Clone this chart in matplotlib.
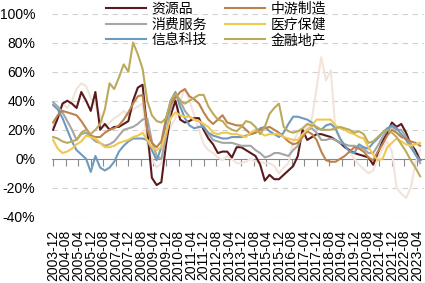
import matplotlib
matplotlib.use("Agg")
import matplotlib.pyplot as plt
import pandas as pd

plt.rcParams['font.family'] = ['Liberation Sans', 'Noto Sans CJK SC', 'DejaVu Sans']

tick_labels = ["2003-12", "2004-08", "2005-04", "2005-12", "2006-08", "2007-04", "2007-12",
               "2008-08", "2009-04", "2009-12", "2010-08", "2011-04", "2011-12", "2012-08",
               "2013-04", "2013-12", "2014-08", "2015-04", "2015-12", "2016-08", "2017-04",
               "2017-12", "2018-08", "2019-04", "2019-12", "2020-08", "2021-04", "2021-12",
               "2022-08", "2023-04"]

dates = pd.date_range("2003-12-01", periods=79, freq="3MS")

resources = [20, 28, 38, 40, 38, 35, 46, 40, 33, 46, 20, 24, 20, 22, 22, 24, 26, 40, 49, 51,
             20, -13, -18, -16, 10, 30, 40, 27, 25, 26, 28, 28, 20, 14, 10, 4, 5, 5, 1, 8,
             8, 6, 4, 2, -4, -15, -11, -14, -14, -11, -8, -5, 2, 20, 13, 15, 17, 17, 16, 15,
             13, 11, 8, 6, 4, 3, 2, 1, -4, 4, 12, 18, 25, 22, 24, 18, 10, 6, -1]
midstream = [25, 30, 33, 32, 31, 30, 26, 21, 16, 15, 15, 18, 20, 21, 23, 27, 32, 38, 43, 44,
             20, 11, 8, 12, 28, 38, 42, 46, 48, 43, 41, 38, 32, 27, 24, 27, 30, 25, 24, 23,
             23, 20, 17, 18, 20, 21, 22, 20, 18, 15, 12, 10, 11, 15, 19, 17, 13, 5, -1, -2,
             -2, 0, 2, 5, 8, 7, 5, 1, -1, 5, 10, 16, 20, 18, 15, 14, 12, 11, 9]
consumer = [39, 36, 32, 26, 20, 13, 17, 18, 15, 12, 11, 9, 10, 12, 16, 20, 21, 22, 24, 27,
            28, 12, 2, 0, 15, 35, 45, 40, 33, 29, 27, 26, 22, 17, 13, 12, 11, 11, 11, 10,
            9, 9, 9, 6, 4, 1, 2, 4, 4, 3, 2, 6, 9, 16, 20, 21, 18, 13, 13, 14,
            13, 11, 10, 9, 9, 8, 7, 4, 4, 9, 15, 20, 22, 20, 20, 15, 10, 3, -3]
healthcare = [13, 7, 4, 5, 7, 10, 12, 16, 15, 14, 11, 8, 8, 9, 11, 12, 13, 15, 16, 18,
              13, 8, 6, 8, 18, 28, 32, 30, 29, 29, 27, 26, 24, 22, 18, 17, 18, 18, 17, 17,
              16, 15, 18, 20, 18, 16, 17, 17, 17, 15, 14, 13, 13, 17, 20, 23, 27, 27, 27, 27,
              23, 21, 20, 18, 17, 15, 14, 8, 3, -1, 0, 8, 11, 14, 12, 10, 9, 10, 11]
tech = [37, 34, 28, 20, 12, 6, 3, 0, -9, 2, -6, -8, -6, -2, 5, 9, 12, 14, 14, 14,
        13, 6, -1, 8, 25, 40, 46, 36, 28, 23, 21, 22, 22, 18, 16, 15, 14, 14, 15, 15,
        15, 16, 17, 18, 21, 22, 19, 17, 15, 18, 24, 29, 29, 28, 27, 25, 21, 20, 23, 24,
        21, 14, 9, 5, 4, 10, 8, 7, 11, 14, 18, 21, 23, 21, 17, 13, 8, 3, -1]
finance = [15, 14, 12, 11, 12, 13, 18, 20, 17, 20, 24, 34, 52, 48, 56, 65, 60, 80, 72, 62,
           40, 30, 26, 25, 28, 40, 45, 40, 38, 40, 42, 44, 44, 36, 31, 27, 26, 22, 20, 19,
           22, 26, 25, 22, 17, 22, 31, 35, 38, 22, 19, 18, 19, 21, 24, 23, 22, 20, 20, 20,
           21, 22, 21, 20, 18, 19, 17, 11, 12, 15, 18, 20, 18, 15, 10, 5, -1, -6, -12]
other = [22, 30, 38, 35, 40, 48, 52, 50, 42, 37, 30, 22, 25, 28, 30, 33, 30, 34, 36, 38,
         10, 0, -6, -3, 15, 22, 28, 40, 48, 40, 30, 20, 10, 6, 4, 1, -1, 2, 0, -3,
         -3, -2, 0, -2, -2, -3, -3, -5, -10, -6, -3, 12, 18, 20, 22, 28, 49, 70, 54, 61,
         20, 13, 10, 5, 0, -4, -7, -10, -8, 0, 7, 12, 5, -20, -24, -27, -20, -3, 6]

series = [
    ("_other", other, "#f2e3dc"),
    ("资源品", resources, "#5a1a1c"),
    ("消费服务", consumer, "#a6a6a6"),
    ("信息科技", tech, "#6e9bbd"),
    ("中游制造", midstream, "#bd824c"),
    ("医疗保健", healthcare, "#f0c850"),
    ("金融地产", finance, "#bcaa5c"),
]

fig = plt.figure(figsize=(4.25, 2.83), dpi=100)
ax = fig.add_axes([52 / 425, 1 - 217 / 283, 372 / 425, (217 - 13.5) / 283])

handles = {}
for name, vals, col in series:
    ln, = ax.plot(dates, vals, color=col, lw=1.5, label=name)
    handles[name] = ln

ax.set_ylim(-40, 100)
ax.set_xlim(pd.Timestamp("2003-11-10"), pd.Timestamp("2023-08-15"))
ax.set_yticks(range(-40, 101, 20))
ax.set_yticklabels([f"{v}%" for v in range(-40, 101, 20)], fontsize=10)
for v in range(-40, 101, 20):
    if v != 0:
        ax.axhline(v, color="#d0d0d0", lw=0.8, ls=(0, (5, 4)), zorder=0)

for s in ["top", "right", "left"]:
    ax.spines[s].set_visible(False)
ax.spines["bottom"].set_position(("data", 0))
ax.spines["bottom"].set_color("#888888")
ax.spines["bottom"].set_zorder(0.5)
ax.tick_params(axis="y", length=0, pad=12)
ticks = pd.to_datetime(tick_labels)
ax.set_xticks(ticks)
ax.set_xticklabels(tick_labels, rotation=90, fontsize=10, va="top")
ax.tick_params(axis="x", direction="out", length=5, color="#888888", pad=46)

order = ["资源品", "消费服务", "信息科技", "中游制造", "医疗保健", "金融地产"]
leg = fig.legend([handles[n] for n in order], order, ncol=2, frameon=False,
                 loc="upper left", bbox_to_anchor=(100 / 425, 1.012),
                 prop={"family": ["Noto Sans CJK SC"], "size": 10},
                 handlelength=2.9, handletextpad=0.4, columnspacing=1.3,
                 labelspacing=0.1, borderaxespad=0)

fig.savefig("out.png", dpi=100)
